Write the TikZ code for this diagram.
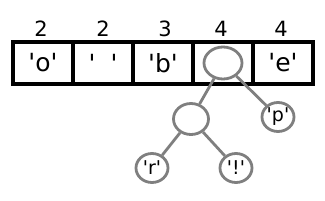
\documentclass[tikz,border=0pt]{standalone}
\usepackage{fontspec}
\setmainfont{DejaVu Sans}
\usepackage{tikz}
\usetikzlibrary{shapes.geometric, positioning}
\definecolor{treegray}{HTML}{7F7F7F}
\newcommand{\chr}[1]{\textquotesingle#1\textquotesingle}

\begin{document}
\begin{tikzpicture}[x=1pt, y=-1pt,
    cell/.style={rectangle, draw=black, line width=4pt, minimum width=60pt,
        minimum height=42pt, inner sep=0pt, font=\fontsize{25}{27}\selectfont},
    idx/.style={font=\fontsize{21}{23}\selectfont, inner sep=0pt},
    bignode/.style={ellipse, draw=treegray, line width=2.8pt, inner sep=0pt,
        minimum width=38pt, minimum height=32pt},
    leaf/.style={ellipse, draw=treegray, line width=2.8pt, inner sep=0pt,
        minimum width=32pt, minimum height=29pt, font=\fontsize{19}{21}\selectfont},
    edge/.style={draw=treegray, line width=2.8pt}
]
    \useasboundingbox (0,0) rectangle (325,201);

    % === array cells ===
    \node[cell] (c1) at (43, 63) {\chr{o}};
    \node[cell] (c2) at (103, 63) {\chr{\hspace{0.6em}}};
    \node[cell] (c3) at (163, 63) {\chr{b}};
    \node[cell] (c4) at (223, 63) {};
    \node[cell] (c5) at (283, 63) {\chr{e}};

    % === frequencies ===
    \node[idx] (f1) at (41, 29) {2};
    \node[idx] (f2) at (103, 29) {2};
    \node[idx] (f3) at (165, 29) {3};
    \node[idx] (f4) at (221, 29) {4};
    \node[idx] (f5) at (281, 29) {4};

    % === tree ===
    \node[bignode] (root) at (223, 63) {};
    \node[bignode, minimum width=35pt, minimum height=31pt] (mid) at (191, 119) {};
    \node[leaf] (p) at (278, 117) {\chr{p}};
    \node[leaf] (r) at (152, 168) {\chr{r}};
    \node[leaf] (ex) at (236, 168) {\chr{!}};

    \draw[edge] (root) -- (mid);
    \draw[edge] (root) -- (p);
    \draw[edge] (mid) -- (r);
    \draw[edge] (mid) -- (ex);
\end{tikzpicture}
\end{document}
